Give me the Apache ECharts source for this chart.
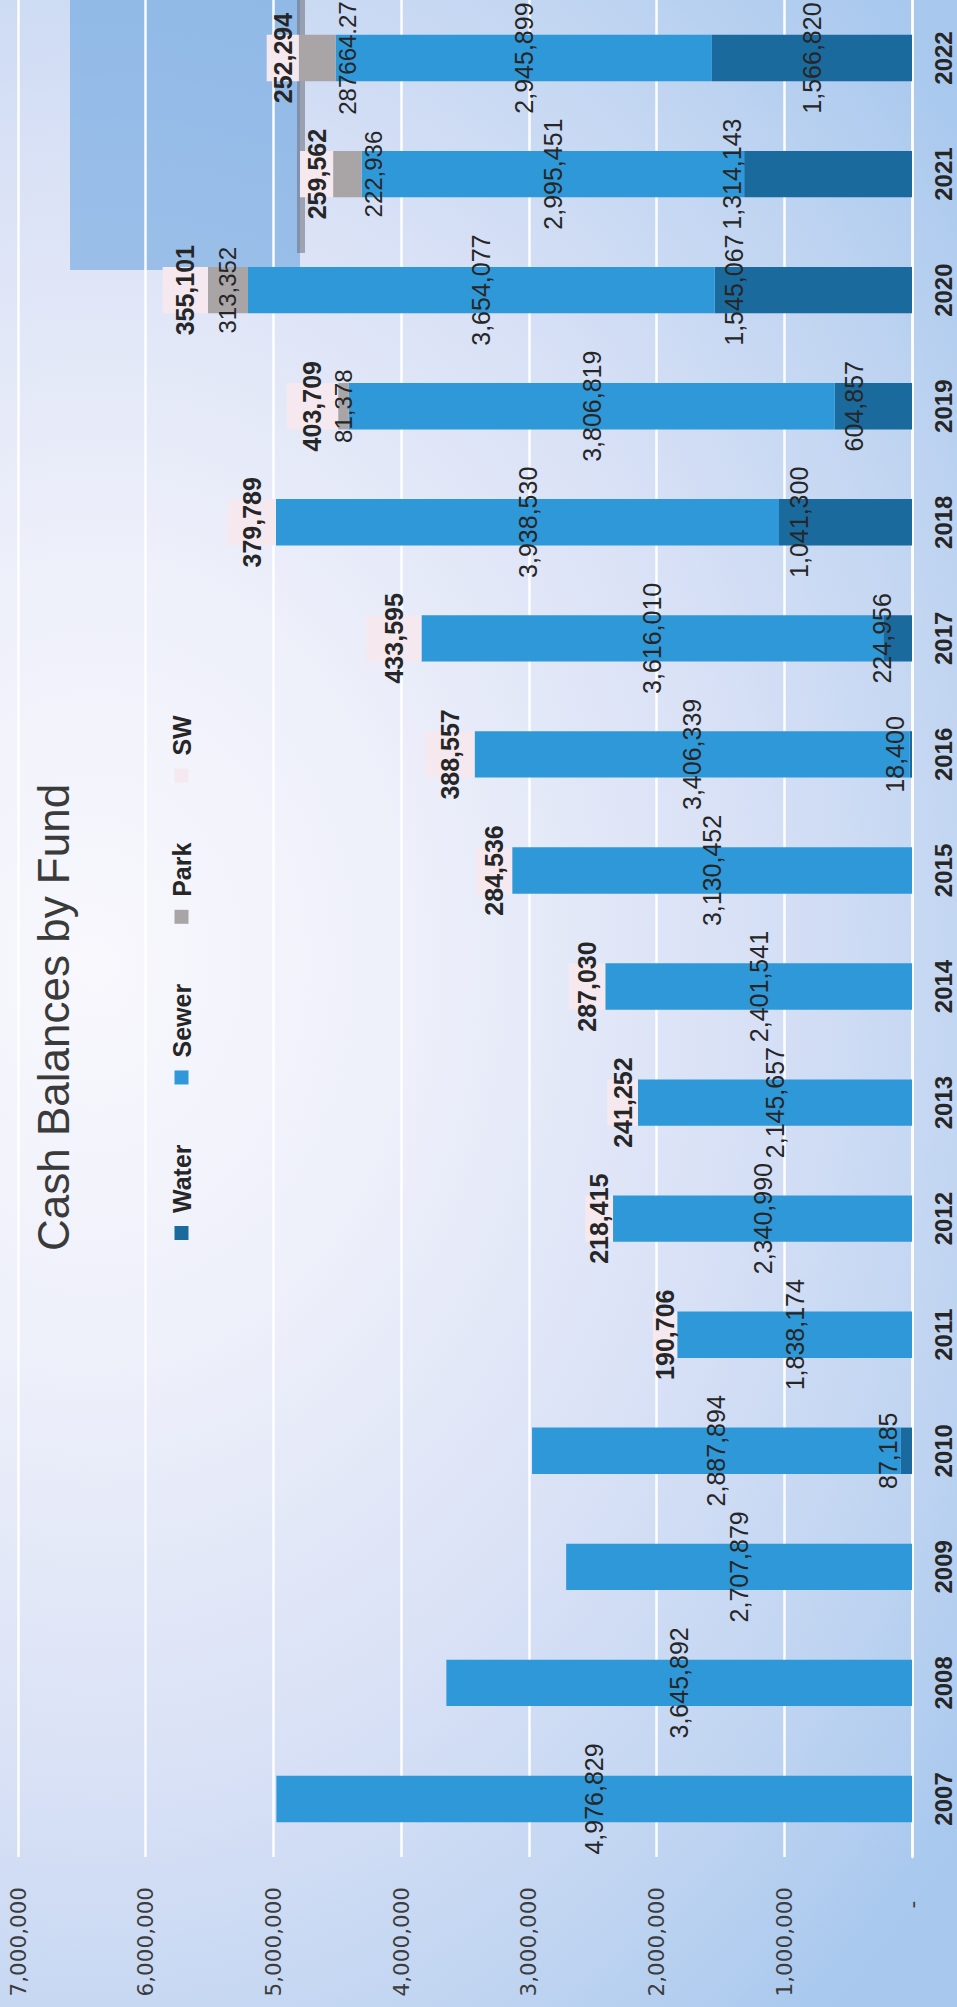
<!DOCTYPE html>
<html>
<head>
<meta charset="utf-8">
<title>Cash Balances by Fund</title>
<script src="https://cdn.jsdelivr.net/npm/echarts@6/dist/echarts.min.js"></script>
<style>
  html, body { margin: 0; padding: 0; width: 957px; height: 2007px; overflow: hidden; background: #c3d7f2; }
  /* the chart is laid out landscape and turned a quarter turn counter-clockwise onto the portrait page */
  #stage {
    position: absolute; left: 0; top: 0; width: 2007px; height: 957px;
    transform-origin: 0 0; transform: translate(0, 2007px) rotate(-90deg);
    background: radial-gradient(ellipse 70% 115% at 52% 10%, #f8f8fd 0%, #eef0fa 28%, #d9e1f6 58%, #bfd4f1 82%, #a8c8ee 100%);
  }
  #chart { width: 2007px; height: 957px; }
</style>
</head>
<body>
<div id="stage"><div id="chart"></div></div>
<script>
// Fund cash balances by year
const years = ['2007','2008','2009','2010','2011','2012','2013','2014','2015','2016','2017','2018','2019','2020','2021','2022'];
const water = [null, null, null, 87185, null, null, null, null, null, 18400, 224956, 1041300, 604857, 1545067, 1314143, 1566820];
const sewer = [4976829, 3645892, 2707879, 2887894, 1838174, 2340990, 2145657, 2401541, 3130452, 3406339, 3616010, 3938530, 3806819, 3654077, 2995451, 2945899];
const park  = [null, null, null, null, null, null, null, null, null, null, null, null, 81378, 313352, 222936, 287664.27];
const sw    = [null, null, null, null, 190706, 218415, 241252, 287030, 284536, 388557, 433595, 379789, 403709, 355101, 259562, 252294];
const valueTicks = [0, 1000000, 2000000, 3000000, 4000000, 5000000, 6000000, 7000000];

const FONT = '"Liberation Sans", Arial, sans-serif';
const TEXT = '#262626';

function fmt(v) {
  if (v === 0) return '-  ';
  if (!Number.isInteger(v)) return v.toFixed(2);
  return String(v).replace(/\B(?=(\d{3})+(?!\d))/g, ',');
}

// where each water / park label sits relative to its segment
const waterPlacement = {
  '2010': ['insideBottom', 12], '2016': ['insideBottom', 5], '2017': ['insideBottom', 18],
  '2021': ['top', 0], '2022': ['inside', 0]
};
const parkPlacement = { '2021': ['bottom', 0], '2022': ['bottom', 0] };

function withLabels(values, defaultPlace, placement) {
  return values.map((v, i) => {
    if (v == null) return v;
    const pl = placement[years[i]] || defaultPlace;
    return { value: v, label: { position: pl[0], distance: pl[1] } };
  });
}

const labelBase = { show: true, fontFamily: FONT, fontSize: 25, color: TEXT, formatter: p => fmt(p.value) };

const chart = echarts.init(document.getElementById('chart'), null, { renderer: 'svg', width: 2007, height: 957 });

chart.setOption({
  animation: false,
  title: {
    text: 'Cash Balances by Fund',
    left: 751, top: 26,
    textStyle: { fontFamily: FONT, fontSize: 44, fontWeight: 'normal', color: '#3a3a3a' }
  },
  legend: {
    top: 164, left: 762,
    itemWidth: 14, itemHeight: 14, itemGap: 60, icon: 'rect',
    textStyle: { fontFamily: FONT, fontSize: 25, fontWeight: 'bold', color: TEXT, padding: [0, 0, 0, 8] },
    data: ['Water', 'Sewer', 'Park', 'SW']
  },
  grid: { left: 150, right: 0, top: 18, bottom: 45, containLabel: false },
  xAxis: {
    type: 'category', data: years,
    axisLine: { lineStyle: { color: 'rgba(255,255,255,0.95)', width: 2.5 } },
    axisTick: { show: false },
    axisLabel: { fontFamily: FONT, fontSize: 24, fontWeight: 'bold', color: TEXT, margin: 19 }
  },
  yAxis: {
    type: 'value', min: valueTicks[0], max: valueTicks[valueTicks.length - 1], interval: valueTicks[1] - valueTicks[0],
    axisLine: { show: false }, axisTick: { show: false },
    splitLine: { lineStyle: { color: 'rgba(255,255,255,0.95)', width: 2.5 } },
    axisLabel: { fontFamily: '"DejaVu Sans", sans-serif', fontSize: 21.5, color: '#3c3c3c', margin: 30, formatter: fmt }
  },
  graphic: [
    { type: 'rect', z: 0, shape: { x: 1737, y: 70, width: 270, height: 230 }, style: { fill: 'rgba(96,158,220,0.55)' } },
    { type: 'rect', z: 0, shape: { x: 1754, y: 297, width: 253, height: 8 }, style: { fill: 'rgba(110,110,120,0.55)' } }
  ],
  series: [
    { name: 'Water', type: 'bar', stack: 'fund', barWidth: '40%', itemStyle: { color: '#1b6a9e' },
      label: Object.assign({}, labelBase), data: withLabels(water, ['insideTop', 7], waterPlacement) },
    { name: 'Sewer', type: 'bar', stack: 'fund', barWidth: '40%', itemStyle: { color: '#2e98d8' },
      label: Object.assign({}, labelBase, { position: 'inside' }), data: sewer },
    { name: 'Park', type: 'bar', stack: 'fund', barWidth: '40%', itemStyle: { color: '#a9a5a6' },
      label: Object.assign({}, labelBase, { fontSize: 24 }), data: withLabels(park, ['inside', 5], parkPlacement) },
    { name: 'SW', type: 'bar', stack: 'fund', barWidth: '40%', itemStyle: { color: '#f5e9ef' },
      label: Object.assign({}, labelBase, { position: 'inside', fontWeight: 'bold' }), data: sw }
  ]
});
</script>
</body>
</html>
